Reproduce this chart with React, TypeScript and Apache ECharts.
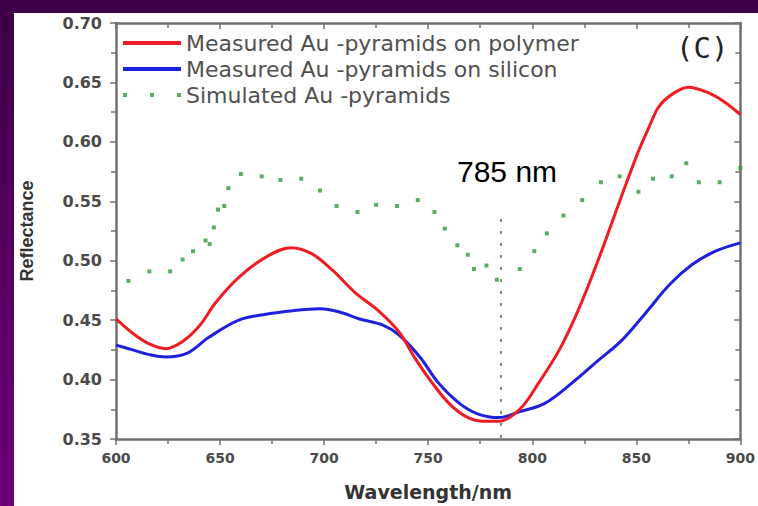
import React, { useEffect, useRef } from "react";
import * as echarts from "echarts";

const polymerWl = [600, 608, 616, 624, 632, 640, 648, 659, 672, 684, 694, 704, 715, 726, 736, 744, 752, 760, 768, 776, 784, 794, 803, 813, 822, 832, 842, 851, 856, 861, 868, 875, 885, 892, 900];
const polymerR = [0.451, 0.439, 0.430, 0.426, 0.432, 0.445, 0.465, 0.486, 0.503, 0.511, 0.506, 0.492, 0.473, 0.458, 0.440, 0.417, 0.397, 0.380, 0.369, 0.365, 0.365, 0.375, 0.397, 0.425, 0.458, 0.502, 0.550, 0.592, 0.612, 0.630, 0.641, 0.646, 0.641, 0.634, 0.623];

const siliconWl = [600, 608, 616, 624, 634, 645, 659, 672, 685, 698, 707, 717, 728, 736, 746, 755, 765, 774, 784, 794, 806, 819, 832, 843, 854, 866, 877, 888, 900];
const siliconR = [0.429, 0.425, 0.421, 0.419, 0.422, 0.436, 0.450, 0.455, 0.458, 0.4595, 0.457, 0.451, 0.446, 0.4375, 0.419, 0.397, 0.380, 0.371, 0.368, 0.373, 0.380, 0.397, 0.4165, 0.433, 0.455, 0.480, 0.497, 0.508, 0.515];

const simWl = [606, 616, 626, 632, 637, 643, 645, 647, 649, 652, 654, 660, 670, 679, 689, 698, 706, 716, 725, 735, 745, 753, 758, 764, 769, 772, 778, 783, 794, 801, 807, 815, 824, 833, 842, 851, 858, 867, 874, 880, 890, 900];
const simR = [0.483, 0.491, 0.491, 0.501, 0.508, 0.517, 0.514, 0.528, 0.543, 0.546, 0.561, 0.573, 0.571, 0.568, 0.569, 0.559, 0.546, 0.541, 0.547, 0.546, 0.551, 0.541, 0.527, 0.513, 0.505, 0.493, 0.496, 0.484, 0.493, 0.508, 0.523, 0.538, 0.551, 0.566, 0.571, 0.558, 0.569, 0.571, 0.582, 0.566, 0.566, 0.578];

const seriesNames = [
  "Measured Au -pyramids on polymer",
  "Measured Au -pyramids on silicon",
  "Simulated Au -pyramids",
];
const markerWl = 785;
const markerTop = 0.535;
const annotationText = "785 nm";
const panelLabel = "(C)";

const zip = (xs: number[], ys: number[]) => xs.map((x, i) => [x, ys[i]]);

export default function App() {
  const ref = useRef<HTMLDivElement>(null);
  useEffect(() => {
    if (!ref.current) return;
    const chart = echarts.init(ref.current, undefined, { renderer: "svg" });
    const axisColor = "#707070";
    const labelStyle = { fontFamily: "DejaVu Sans", fontWeight: "bold" as const, color: "#4a4a4a" };
    const option: any = {
      animation: false,
      backgroundColor: {
        type: "linear", x: 0, y: 0, x2: 0, y2: 1,
        colorStops: [{ offset: 0, color: "#3d0046" }, { offset: 1, color: "#6d0078" }],
      },
      graphic: [
        { type: "rect", z: -100, silent: true, shape: { x: 14, y: 13, width: 744, height: 493 }, style: { fill: "#ffffff" } },
        { type: "text", left: 457, top: 156, style: { text: annotationText, fontFamily: "Liberation Sans", fontSize: 30, fill: "#000" } },
        { type: "text", left: 676, top: 33, style: { text: panelLabel, fontFamily: "DejaVu Sans Mono", fontSize: 29, fill: "#222" } },
      ],
      grid: { left: 116, right: 16, top: 23, bottom: 63 },
      legend: {
        orient: "vertical", left: 118, top: 27, itemWidth: 58, itemHeight: 4, itemGap: 4,
        textStyle: { fontFamily: "DejaVu Sans", fontSize: 22, lineHeight: 22, color: "#505050" },
        data: [
          { name: seriesNames[0], icon: "rect" },
          { name: seriesNames[1], icon: "rect" },
          { name: seriesNames[2], icon: "path://M0,0h4v4h-4z M27,0h4v4h-4z M54,0h4v4h-4z" },
        ],
      },
      xAxis: [
        {
          type: "value", min: 600, max: 900, interval: 50, position: "bottom",
          axisLine: { show: true, onZero: false, lineStyle: { color: axisColor, width: 2.5 } },
          axisTick: { show: true, length: 6, lineStyle: { color: axisColor, width: 1.5 } },
          minorTick: { show: true, splitNumber: 2, length: 5, lineStyle: { color: axisColor, width: 1.5 } },
          splitLine: { show: false },
          axisLabel: { ...labelStyle, fontSize: 14, margin: 12 },
          name: "Wavelength/nm", nameLocation: "middle", nameGap: 43,
          nameTextStyle: { ...labelStyle, fontSize: 19, color: "#333" },
        },
        {
          type: "value", min: 600, max: 900, interval: 50, position: "top",
          axisLine: { show: true, onZero: false, lineStyle: { color: axisColor, width: 2.5 } },
          axisTick: { show: true, inside: true, length: 6, lineStyle: { color: axisColor, width: 1.5 } },
          minorTick: { show: true, splitNumber: 2, length: 5, lineStyle: { color: axisColor, width: 1.5 } },
          splitLine: { show: false }, axisLabel: { show: false },
        },
      ],
      yAxis: [
        {
          type: "value", min: 0.35, max: 0.7, interval: 0.05, position: "left",
          axisLine: { show: true, onZero: false, lineStyle: { color: axisColor, width: 2.5 } },
          axisTick: { show: true, length: 6, lineStyle: { color: axisColor, width: 1.5 } },
          minorTick: { show: true, splitNumber: 2, length: 5, lineStyle: { color: axisColor, width: 1.5 } },
          splitLine: { show: false },
          axisLabel: { ...labelStyle, fontSize: 16, margin: 14, formatter: (v: number) => v.toFixed(2) },
          name: "Reflectance", nameLocation: "middle", nameGap: 80, nameRotate: 90,
          nameTextStyle: { fontFamily: "Liberation Sans", fontWeight: "bold", fontSize: 18, color: "#333" },
        },
        {
          type: "value", min: 0.35, max: 0.7, interval: 0.05, position: "right",
          axisLine: { show: true, onZero: false, lineStyle: { color: axisColor, width: 2.5 } },
          axisTick: { show: true, inside: true, length: 6, lineStyle: { color: axisColor, width: 1.5 } },
          minorTick: { show: true, splitNumber: 2, length: 5, lineStyle: { color: axisColor, width: 1.5 } },
          splitLine: { show: false }, axisLabel: { show: false },
        },
      ],
      series: [
        {
          name: seriesNames[0], type: "line", data: zip(polymerWl, polymerR), smooth: 0.35,
          symbol: "none", lineStyle: { color: "#f01c24", width: 3 }, itemStyle: { color: "#f01c24" }, z: 4,
          markLine: {
            silent: true, symbol: ["none", "none"], label: { show: false },
            lineStyle: { type: [3, 9], color: "#8a8a8a", width: 2 },
            data: [[{ coord: [markerWl, markerTop] }, { coord: [markerWl, 0.35] }]],
          },
        },
        {
          name: seriesNames[1], type: "line", data: zip(siliconWl, siliconR), smooth: 0.35,
          symbol: "none", lineStyle: { color: "#1f1fe0", width: 3 }, itemStyle: { color: "#1f1fe0" }, z: 3,
        },
        {
          name: seriesNames[2], type: "scatter", data: zip(simWl, simR),
          symbol: "rect", symbolSize: 4, itemStyle: { color: "#2f9a3a" }, z: 5,
        },
      ],
    };
    chart.setOption(option);
    return () => chart.dispose();
  }, []);
  return <div ref={ref} style={{ position: "fixed", left: 0, top: 0, width: 758, height: 506 }} />;
}
